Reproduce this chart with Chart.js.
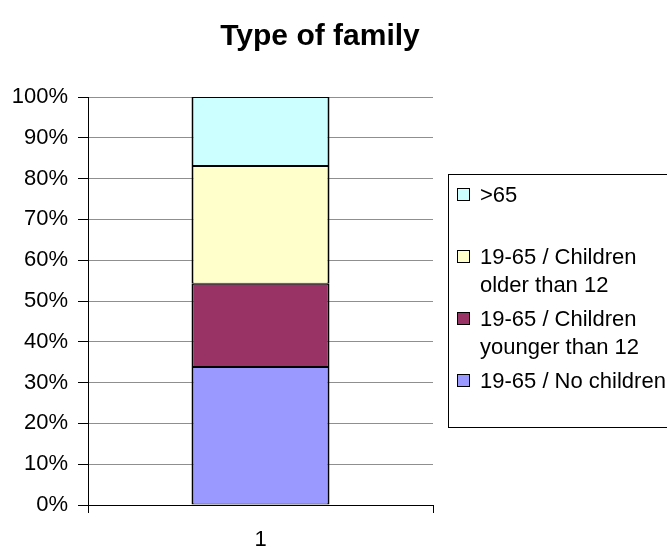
<!DOCTYPE html>
<html>
<head>
<meta charset="utf-8">
<script src="https://cdn.jsdelivr.net/npm/chart.js@4"></script>
<style>
  html, body { margin: 0; padding: 0; background: #fff; }
  canvas { display: block; }
</style>
</head>
<body>
<canvas id="diagram" width="667" height="547"></canvas>
<script>
const categories = ['1'];
const seriesNames = ['19-65 / No children', '19-65 / Children younger than 12', '19-65 / Children older than 12', '>65'];
const seriesValues = [[33.8], [20.4], [28.9], [16.9]];
const seriesColors = ['#9999ff', '#993366', '#ffffcc', '#ccffff'];
const yTicks = [0, 10, 20, 30, 40, 50, 60, 70, 80, 90, 100];

const FONT = '"Liberation Sans", Arial, sans-serif';

// title and boxed legend drawn like the old spreadsheet chart
const decorations = {
    id: 'decorations',
    afterDraw(chart) {
        const ctx = chart.ctx;
        ctx.save();
        ctx.fillStyle = '#000';
        ctx.font = 'bold 30px ' + FONT;
        ctx.textAlign = 'center';
        ctx.textBaseline = 'middle';
        ctx.fillText('Type of family', 320, 37);

        const boxX = 448.5, boxY = 174.5;
        ctx.strokeStyle = '#000';
        ctx.lineWidth = 1;
        ctx.strokeRect(boxX, boxY, 300, 253);

        ctx.font = '22px ' + FONT;
        ctx.textAlign = 'left';
        const sets = chart.data.datasets.slice().reverse();
        sets.forEach((ds, i) => {
            const y = 195 + i * 62;
            ctx.fillStyle = ds.backgroundColor;
            ctx.fillRect(457.5, y - 6.5, 12, 12);
            ctx.strokeRect(457.5, y - 6.5, 12, 12);
            ctx.fillStyle = '#000';
            // wrap label
            const words = ds.label.split(' ');
            const lines = [];
            let line = '';
            words.forEach(w => {
                const test = line ? line + ' ' + w : w;
                if (ctx.measureText(test).width > 195 && line) {
                    lines.push(line);
                    line = w;
                } else {
                    line = test;
                }
            });
            lines.push(line);
            lines.forEach((l, j) => ctx.fillText(l, 480, y + 1 + j * 28));
        });
        ctx.restore();
    }
};

new Chart(document.getElementById('diagram').getContext('2d'), {
    type: 'bar',
    data: {
        labels: categories,
        datasets: seriesNames.map((name, i) => ({
            label: name,
            data: seriesValues[i],
            backgroundColor: seriesColors[i],
            borderColor: '#000',
            borderWidth: { top: 1, bottom: 1, left: 2, right: 2 },
            borderSkipped: false,
            categoryPercentage: 1,
            barPercentage: 0.4
        }))
    },
    options: {
        responsive: false,
        animation: false,
        devicePixelRatio: 1,
        layout: { padding: { top: 97, right: 234, bottom: 0, left: 0 } },
        plugins: {
            legend: { display: false },
            title: { display: false },
            tooltip: { enabled: false }
        },
        scales: {
            x: {
                stacked: true,
                afterFit(scale) { scale.height = 42; },
                grid: { offset: true, drawOnChartArea: false, tickLength: 8, tickColor: '#000' },
                border: { color: '#000', width: 1 },
                ticks: { color: '#000', padding: 14, font: { family: FONT, size: 22 } }
            },
            y: {
                stacked: true,
                min: 0,
                max: 100,
                afterFit(scale) { scale.width = 88; },
                afterBuildTicks(scale) { scale.ticks = yTicks.map(v => ({ value: v })); },
                grid: { color: '#8f8f8f', tickLength: 10, tickColor: '#000' },
                border: { color: '#000', width: 1 },
                ticks: {
                    color: '#000',
                    padding: 10,
                    font: { family: FONT, size: 22 },
                    callback: v => v + '%'
                }
            }
        }
    },
    plugins: [decorations]
});
</script>
</body>
</html>
